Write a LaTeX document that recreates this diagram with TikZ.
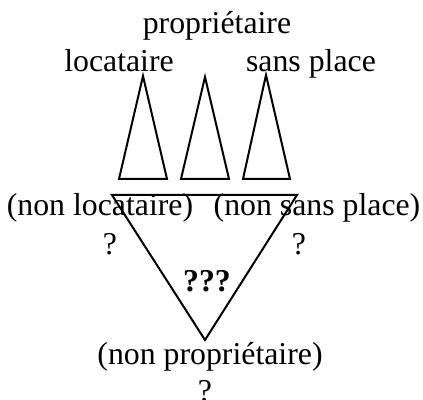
\documentclass[tikz,border=0pt]{standalone}
\usepackage{fontspec}
\setmainfont{Liberation Serif}
\begin{document}
\begin{tikzpicture}
\begin{scope}[x=0.5pt, y=-0.5pt, line width=1pt, line join=miter,
  every node/.style={font=\fontsize{15.9}{18}\selectfont, inner sep=0pt, anchor=base}]
  \useasboundingbox (0,0) rectangle (423,400);
  \draw (143,76) -- (167,179) -- (119,179) -- cycle;
  \draw (205,77) -- (229,179) -- (181,179) -- cycle;
  \draw (266,75) -- (290,179) -- (243,179) -- cycle;
  \draw (112,195) -- (297,195) -- (205,340) -- cycle;
  \node (prop) at (217,34) {propriétaire};
  \node (loc) at (119,72) {locataire};
  \node (sans) at (311,72) {sans place};
  \node (nonloc) at (100,216) {(non locataire)};
  \node (nonsans) at (317,216) {(non sans place)};
  \node (qloc) at (110,255) {?};
  \node (qsans) at (299,255) {?};
  \node[font=\fontsize{15.9}{18}\selectfont\bfseries] (qqq) at (207,292) {???};
  \node (nonprop) at (210,365) {(non propriétaire)};
  \node (qprop) at (205,402) {?};
\end{scope}
\end{tikzpicture}
\end{document}
